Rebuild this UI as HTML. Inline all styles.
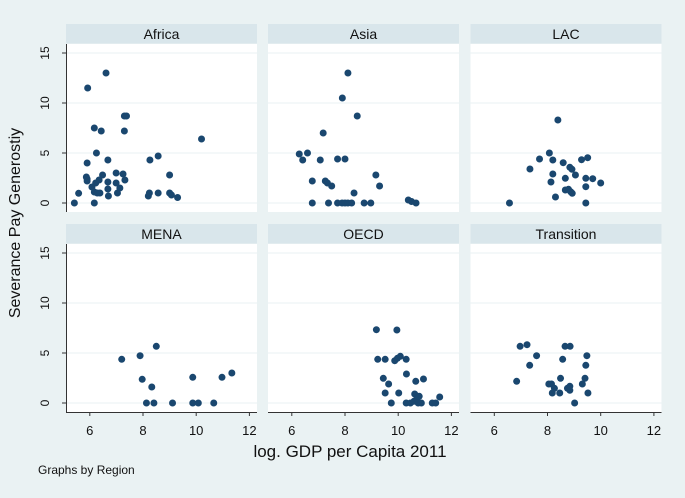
<!DOCTYPE html>
<html><head><meta charset="utf-8"><style>
html,body{margin:0;padding:0;background:#eaf2f3;}
svg{display:block;font-family:"Liberation Sans",sans-serif;}
</style></head><body>
<svg id="chart" width="685" height="498" viewBox="0 0 685 498" xmlns="http://www.w3.org/2000/svg">
<rect width="685" height="498" fill="#eaf2f3"/>
<text x="20" y="223" font-size="16" fill="#111" text-anchor="middle" transform="rotate(-90 20 223)">Severance Pay Generostiy</text>
<text x="350" y="457" font-size="17" fill="#111" text-anchor="middle">log. GDP per Capita 2011</text>
<text x="38" y="474" font-size="12" fill="#111">Graphs by Region</text>
<g id="panels"></g>
</svg>
<script>
const regions = ["Africa","Asia","LAC","MENA","OECD","Transition"];
const yTicks = [0,5,10,15];
const xTicks = [6,8,10,12];
const africaX = [5.42,5.58,5.92,6.61,5.9,5.87,5.9,5.9,6.17,6.43,6.25,6.68,6.17,6.08,6.17,6.28,6.38,6.22,6.35,6.48,6.68,6.68,6.7,6.99,6.99,7.04,7.13,7.25,7.32,7.3,7.38,7.3,8.2,8.24,8.26,8.57,8.57,9.0,9.0,9.07,9.3,10.2];
const africaY = [0,0.97,11.5,13.0,4.0,2.6,2.2,2.4,7.5,7.2,5.0,4.3,0,1.6,1.1,1.0,1.0,2.0,2.3,2.8,2.1,1.4,0.7,3.0,2.0,1.0,1.5,2.9,2.3,8.7,8.7,7.2,0.7,1.0,4.3,1.0,4.7,2.8,1.0,0.8,0.55,6.4];
const asiaX = [6.28,6.41,6.59,6.77,6.77,7.07,7.18,7.26,7.34,7.5,7.38,7.72,8.0,7.72,7.89,8.0,8.11,8.25,7.9,8.11,8.46,8.34,8.72,8.97,9.16,9.3,10.38,10.5,10.67];
const asiaY = [4.9,4.3,5.0,2.2,0,4.3,7.0,2.2,2.0,1.7,0,4.4,4.4,0,0,0,0,0,10.5,13.0,8.7,1.0,0,0,2.8,1.7,0.3,0.15,0];
const lacX = [6.57,7.34,7.7,8.07,8.2,8.39,8.13,8.2,8.3,8.59,8.67,8.79,8.87,8.93,8.67,8.84,8.92,9.05,9.28,9.51,9.44,9.44,9.7,10.0,9.44];
const lacY = [0,3.4,4.4,5.0,4.3,8.3,2.1,2.9,0.6,4.03,1.3,1.37,1.13,0.97,2.47,3.57,3.37,2.8,4.33,4.53,2.47,1.63,2.43,2.0,0];
const menaX = [7.2,7.89,8.5,7.97,8.33,8.13,8.41,9.11,9.87,9.87,10.08,10.66,10.97,11.34];
const menaY = [4.37,4.73,5.67,2.37,1.6,0,0,0,2.57,0,0,0,2.57,3.0];
const oecdX = [9.18,9.95,9.23,9.51,9.44,9.51,9.64,9.74,9.87,9.97,10.08,10.3,10.02,10.31,10.3,10.46,10.59,10.62,10.7,10.66,10.79,10.75,10.87,10.95,11.28,11.41,11.56];
const oecdY = [7.33,7.3,4.37,4.37,2.47,1.0,1.9,0,4.23,4.47,4.67,4.37,1.0,2.9,0,0,0.17,0.9,0.4,2.17,0.67,0,0,2.4,0,0,0.6];
const transX = [6.84,6.97,7.23,7.33,7.59,8.05,8.15,8.18,8.26,8.46,8.49,8.57,8.66,8.85,8.75,8.84,8.84,9.02,9.31,9.41,9.44,9.48,9.52];
const transY = [2.17,5.67,5.83,3.77,4.73,1.9,1.9,1.0,1.47,1.0,2.47,4.37,5.67,5.67,1.47,1.67,1.27,0,1.9,2.47,3.77,4.73,1.0];
const seriesX = [africaX,asiaX,lacX,menaX,oecdX,transX];
const seriesY = [africaY,asiaY,lacY,menaY,oecdY,transY];

const NS = "http://www.w3.org/2000/svg";
const root = document.getElementById("panels");
function mk(tag, attrs, parent){const e=document.createElementNS(NS,tag);for(const k in attrs)e.setAttribute(k,attrs[k]);parent.appendChild(e);return e;}
const panelLeft = [66,268,470.5], panelW = 191;
const rowTop = [24,224];
function xScale(col,v){return panelLeft[col] + 23.8 + (v-6)*26.6;}
function yScale(row,v){return rowTop[row] + 179 - v*10;}

regions.forEach((name,i)=>{
  const col=i%3,row=Math.floor(i/3);
  const L=panelLeft[col],T=rowTop[row];
  const g=mk("g",{},root);
  
  
  const hd=mk("rect",{x:L,y:T,width:panelW,height:19.5,fill:"#d9e6eb"},g);
  
  
  const ht=mk("text",{x:L+panelW/2,y:T+15,"font-size":"14","text-anchor":"middle",fill:"#111"},g);
  ht.textContent=name;
  
  
  const pa=mk("rect",{x:L,y:T+20,width:panelW,height:168,fill:"#ffffff"},g);
  
  
  yTicks.forEach(t=>{
    const y=yScale(row,t);
    const gl=mk("line",{x1:L,x2:L+panelW,y1:y,y2:y,stroke:"#eaf2f3","stroke-width":1},g);
    
    
  });
  if(col===0){
    mk("line",{x1:L+0.5,x2:L+0.5,y1:T+20,y2:T+188,stroke:"#333","stroke-width":1},g);
    yTicks.forEach(t=>{
      const y=yScale(row,t);
      mk("line",{x1:L-4,x2:L,y1:y,y2:y,stroke:"#333"},g);
      const tl=mk("text",{x:L-21,y:y,"font-size":"12","text-anchor":"middle",fill:"#111",transform:`rotate(-90 ${L-21} ${y}) translate(0 4)`},g);
      tl.textContent=t;
      
      
    });
  }
  if(row===1){
    mk("line",{x1:L,x2:L+panelW,y1:T+188.5,y2:T+188.5,stroke:"#333","stroke-width":1},g);
    xTicks.forEach(t=>{
      const x=xScale(col,t);
      mk("line",{x1:x,x2:x,y1:T+188.5,y2:T+192,stroke:"#333"},g);
      const tl=mk("text",{x:x,y:T+211,"font-size":"13","text-anchor":"middle",fill:"#111"},g);
      tl.textContent=t;
      
      
    });
  }
  const xs=seriesX[i], ys=seriesY[i];
  xs.forEach((xv,k)=>{
    const c=mk("circle",{cx:xScale(col,xv),cy:yScale(row,ys[k]),r:3.5,fill:"#1a476f"},g);
    
    
  });
});
</script>
</body></html>
